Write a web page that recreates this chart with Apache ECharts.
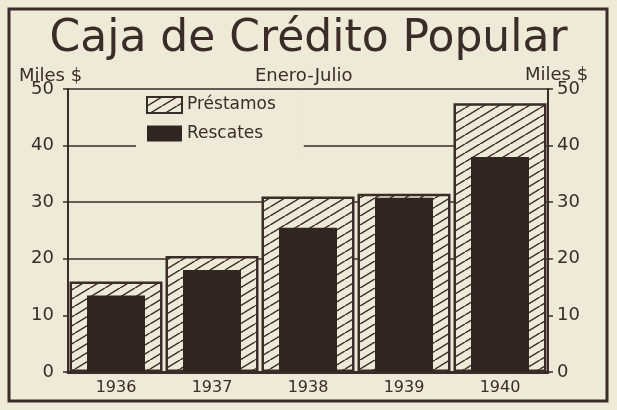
<!DOCTYPE html>
<html>
<head>
<meta charset="utf-8">
<script src="https://cdn.jsdelivr.net/npm/echarts@6/dist/echarts.min.js"></script>
<style>
  html, body { margin: 0; padding: 0; background: #efe9d8; }
  #chart { width: 617px; height: 410px; }
</style>
</head>
<body>
<div id="chart"></div>
<script>
// data (miles de $)
var years = ['1936', '1937', '1938', '1939', '1940']
var prestamos = [16, 20.5, 31, 31.5, 47.5]
var rescates = [13.5, 18, 25.5, 30.8, 38]
var yTicks = [0, 10, 20, 30, 40, 50]

var ink = '#3a2c26'
var dark = '#312621'
var paper = '#efe9d8'
var font = 'DejaVu Sans'

// diagonal hatch for Préstamos
function hatch() {
  var w = 15, h = 9
  var c = document.createElement('canvas')
  c.width = w
  c.height = h
  var ctx = c.getContext('2d')
  ctx.fillStyle = paper
  ctx.fillRect(0, 0, w, h)
  ctx.strokeStyle = ink
  ctx.lineWidth = 1.5
  ctx.beginPath()
  ctx.moveTo(-w, h); ctx.lineTo(0, 0)
  ctx.moveTo(0, h); ctx.lineTo(w, 0)
  ctx.moveTo(w, h); ctx.lineTo(2 * w, 0)
  ctx.stroke()
  return c
}

var chart = echarts.init(document.getElementById('chart'))

chart.setOption({
  backgroundColor: paper,
  textStyle: { fontFamily: font, color: ink },
  title: [
    {
      text: 'Caja de Crédito Popular',
      left: 'center',
      top: 13,
      textStyle: { fontFamily: font, fontSize: 44, fontWeight: 'normal', color: ink }
    },
    {
      text: 'Enero-Julio',
      left: 250,
      top: 62,
      textStyle: { fontFamily: font, fontSize: 18, fontWeight: 'normal', color: ink }
    },
    {
      text: 'Miles $',
      left: 14,
      top: 62,
      textStyle: { fontFamily: font, fontSize: 18, fontWeight: 'normal', color: ink }
    },
    {
      text: 'Miles $',
      left: 520,
      top: 61,
      textStyle: { fontFamily: font, fontSize: 18, fontWeight: 'normal', color: ink }
    }
  ],
  graphic: [
    {
      type: 'rect',
      shape: { x: 9, y: 9, width: 598, height: 392 },
      style: { fill: null, stroke: ink, lineWidth: 3 },
      silent: true
    }
  ],
  legend: {
    orient: 'vertical',
    left: 136,
    top: 90,
    padding: [6, 28, 12, 10],
    backgroundColor: paper,
    icon: 'rect',
    itemWidth: 35,
    itemHeight: 16,
    itemGap: 11,
    textStyle: { fontFamily: font, fontSize: 17, color: ink },
    data: ['Préstamos', 'Rescates']
  },
  grid: {
    left: 68,
    right: 69,
    top: 89,
    bottom: 38,
    show: true,
    borderColor: ink,
    borderWidth: 1.5,
    backgroundColor: 'transparent'
  },
  xAxis: [
    {
      type: 'category',
      data: years,
      axisLine: { lineStyle: { color: ink, width: 3 } },
      axisTick: { show: false },
      axisLabel: { fontFamily: font, fontSize: 16, color: ink, margin: 8 }
    },
    {
      type: 'category',
      data: years,
      position: 'bottom',
      show: false
    }
  ],
  yAxis: [
    {
      type: 'value',
      min: yTicks[0],
      max: yTicks[yTicks.length - 1],
      interval: 10,
      axisLine: { show: true, lineStyle: { color: ink, width: 2 } },
      axisTick: { show: true, length: 5, lineStyle: { color: ink, width: 1.5 } },
      axisLabel: { fontFamily: font, fontSize: 18, color: ink, margin: 14 },
      splitLine: {
        show: true,
        lineStyle: {
          width: 1.5,
          color: ['rgba(0,0,0,0)', 'rgba(0,0,0,0)', ink, ink, ink, 'rgba(0,0,0,0)']
        }
      }
    },
    {
      type: 'value',
      position: 'right',
      min: yTicks[0],
      max: yTicks[yTicks.length - 1],
      interval: 10,
      axisLine: { show: true, lineStyle: { color: ink, width: 2 } },
      axisTick: { show: true, length: 5, lineStyle: { color: ink, width: 1.5 } },
      axisLabel: { fontFamily: font, fontSize: 18, color: ink, margin: 9, padding: [0, 0, 14, 0] },
      splitLine: { show: false }
    }
  ],
  series: [
    {
      name: 'Préstamos',
      type: 'bar',
      xAxisIndex: 0,
      yAxisIndex: 0,
      barWidth: 93,
      data: prestamos,
      itemStyle: {
        color: { image: hatch(), repeat: 'repeat' },
        borderColor: ink,
        borderWidth: 2.5
      },
      z: 2
    },
    {
      name: 'Rescates',
      type: 'bar',
      xAxisIndex: 1,
      yAxisIndex: 0,
      barWidth: 58,
      data: rescates,
      itemStyle: { color: dark },
      z: 3
    }
  ]
})
</script>
</body>
</html>
